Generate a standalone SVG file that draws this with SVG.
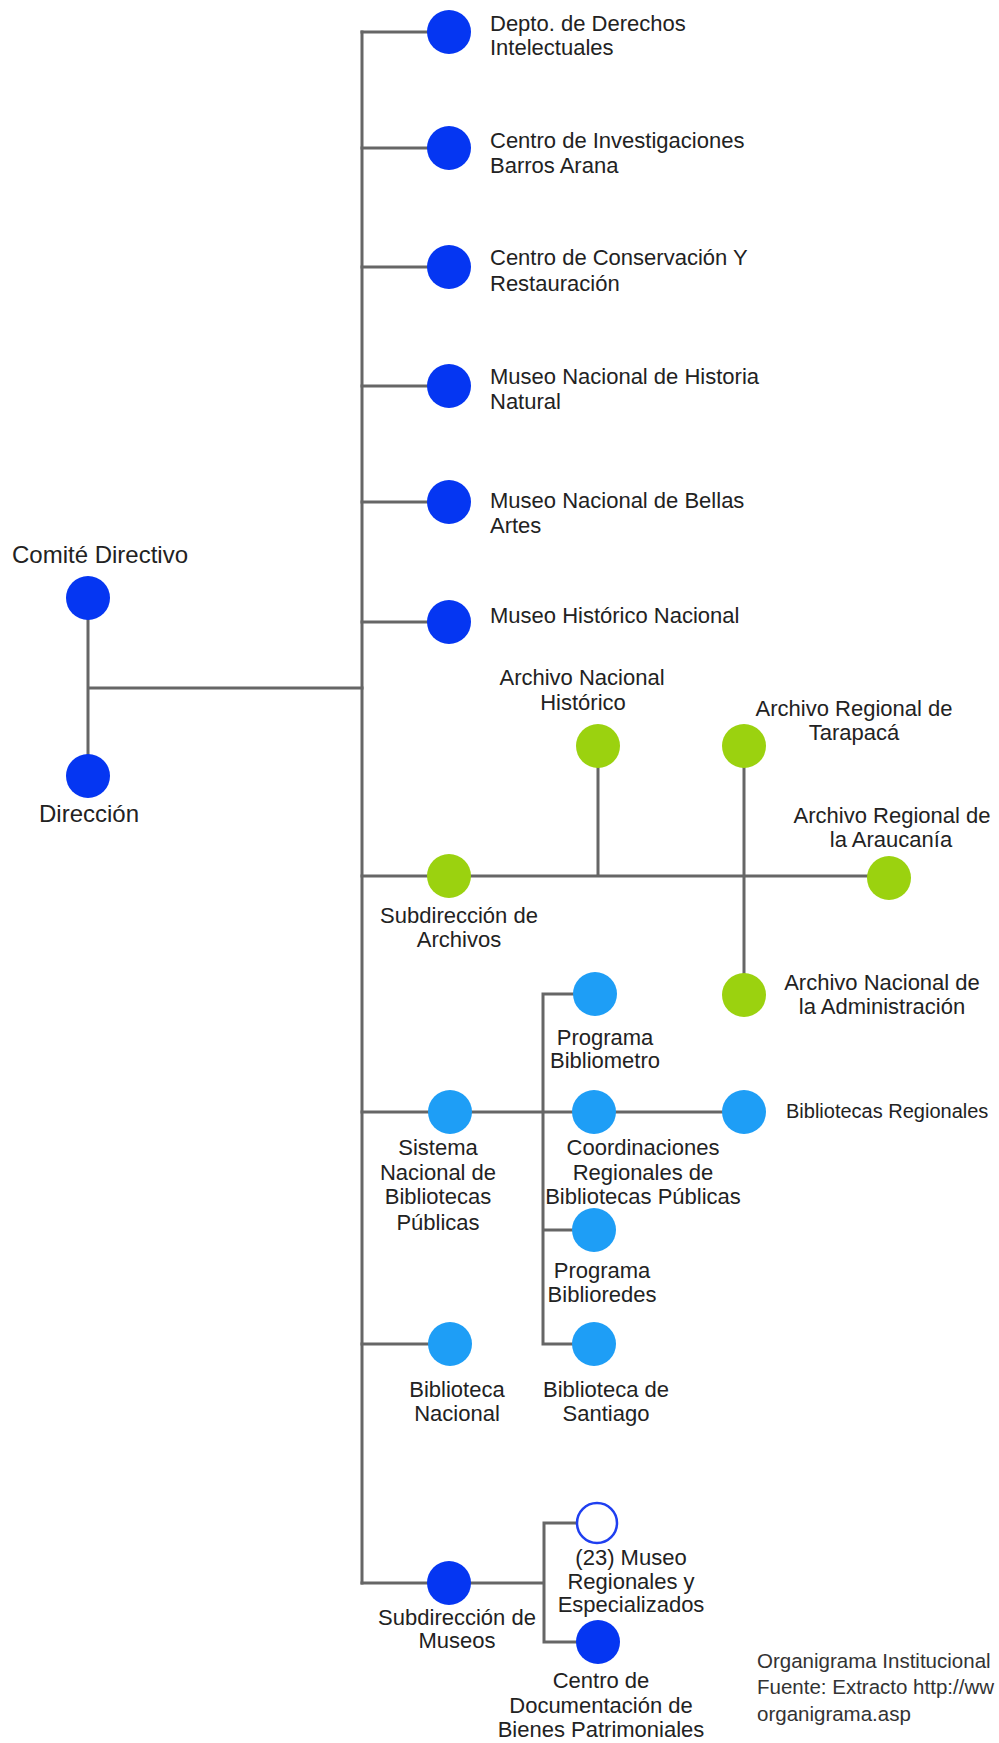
<svg xmlns="http://www.w3.org/2000/svg" width="999" height="1743" viewBox="0 0 999 1743">
<style>
.ln{stroke:#666;stroke-width:3;fill:none;stroke-linecap:square}
.db{fill:#0536f2}
.lb{fill:#1e9ef6}
.gr{fill:#9bd20f}
.open{fill:#fff;stroke:#1f3ff0;stroke-width:2.5}
text{font-family:"Liberation Sans",Arial,sans-serif;font-size:22px;fill:#222}
.c{text-anchor:middle}
.big{font-size:24px}
.sm{font-size:20px}
.foot{font-size:20.5px;fill:#333}
</style>
<rect width="999" height="1743" fill="#fff"/>
<g id="connectors">
<path class="ln" d="M362 32V1583"/>
<path class="ln" d="M362 32H449M362 148H449M362 267H449M362 386H449M362 502H449M362 622H449"/>
<path class="ln" d="M88 598V776M88 688H362"/>
<path class="ln" d="M362 876H889M598 746V876M744 746V995"/>
<path class="ln" d="M362 1112H744M543 994V1344M543 994H594M543 1230H594M543 1344H594M362 1344H450"/>
<path class="ln" d="M362 1583H544M544 1523V1642M544 1523H577M544 1642H598"/>
</g>
<g id="comite"><circle class="db" cx="88" cy="598" r="22"/><text class="big c" x="100" y="563">Comité Directivo</text></g>
<g id="direccion"><circle class="db" cx="88" cy="776" r="22"/><text class="big c" x="89" y="822">Dirección</text></g>
<g id="derechos"><circle class="db" cx="449" cy="32" r="22"/><text x="490" y="31">Depto. de Derechos</text><text x="490" y="55">Intelectuales</text></g>
<g id="barros"><circle class="db" cx="449" cy="148" r="22"/><text x="490" y="148">Centro de Investigaciones</text><text x="490" y="173">Barros Arana</text></g>
<g id="conservacion"><circle class="db" cx="449" cy="267" r="22"/><text x="490" y="265">Centro de Conservación Y</text><text x="490" y="291">Restauración</text></g>
<g id="historia-natural"><circle class="db" cx="449" cy="386" r="22"/><text x="490" y="384">Museo Nacional de Historia</text><text x="490" y="409">Natural</text></g>
<g id="bellas-artes"><circle class="db" cx="449" cy="502" r="22"/><text x="490" y="508">Museo Nacional de Bellas</text><text x="490" y="533">Artes</text></g>
<g id="historico"><circle class="db" cx="449" cy="622" r="22"/><text x="490" y="623">Museo Histórico Nacional</text></g>
<g id="sub-archivos"><circle class="gr" cx="449" cy="876" r="22"/><text class="c" x="459" y="923">Subdirección de</text><text class="c" x="459" y="947">Archivos</text></g>
<g id="archivo-historico"><circle class="gr" cx="598" cy="746" r="22"/><text class="c" x="582" y="685">Archivo Nacional</text><text class="c" x="583" y="710">Histórico</text></g>
<g id="tarapaca"><circle class="gr" cx="744" cy="746" r="22"/><text class="c" x="854" y="716">Archivo Regional de</text><text class="c" x="854" y="740">Tarapacá</text></g>
<g id="araucania"><circle class="gr" cx="889" cy="878" r="22"/><text class="c" x="892" y="823">Archivo Regional de</text><text class="c" x="891" y="847">la Araucanía</text></g>
<g id="administracion"><circle class="gr" cx="744" cy="995" r="22"/><text class="c" x="882" y="990">Archivo Nacional de</text><text class="c" x="882" y="1014">la Administración</text></g>
<g id="snbp"><circle class="lb" cx="450" cy="1112" r="22"/><text class="c" x="438" y="1155">Sistema</text><text class="c" x="438" y="1180">Nacional de</text><text class="c" x="438" y="1204">Bibliotecas</text><text class="c" x="438" y="1230">Públicas</text></g>
<g id="bibliometro"><circle class="lb" cx="595" cy="994" r="22"/><text class="c" x="605" y="1045">Programa</text><text class="c" x="605" y="1068">Bibliometro</text></g>
<g id="coordinaciones"><circle class="lb" cx="594" cy="1112" r="22"/><text class="c" x="643" y="1155">Coordinaciones</text><text class="c" x="643" y="1180">Regionales de</text><text class="c" x="643" y="1204">Bibliotecas Públicas</text></g>
<g id="regionales"><circle class="lb" cx="744" cy="1112" r="22"/><text class="sm" x="786" y="1118">Bibliotecas Regionales</text></g>
<g id="biblioredes"><circle class="lb" cx="594" cy="1230" r="22"/><text class="c" x="602" y="1278">Programa</text><text class="c" x="602" y="1302">Biblioredes</text></g>
<g id="santiago"><circle class="lb" cx="594" cy="1344" r="22"/><text class="c" x="606" y="1397">Biblioteca de</text><text class="c" x="606" y="1421">Santiago</text></g>
<g id="nacional"><circle class="lb" cx="450" cy="1344" r="22"/><text class="c" x="457" y="1397">Biblioteca</text><text class="c" x="457" y="1421">Nacional</text></g>
<g id="sub-museos"><circle class="db" cx="449" cy="1583" r="22"/><text class="c" x="457" y="1625">Subdirección de</text><text class="c" x="457" y="1648">Museos</text></g>
<g id="museos-regionales"><circle class="open" cx="597" cy="1523" r="20"/><text class="c" x="631" y="1565">(23) Museo</text><text class="c" x="631" y="1589">Regionales y</text><text class="c" x="631" y="1612">Especializados</text></g>
<g id="documentacion"><circle class="db" cx="598" cy="1642" r="22"/><text class="c" x="601" y="1688">Centro de</text><text class="c" x="601" y="1713">Documentación de</text><text class="c" x="601" y="1737">Bienes Patrimoniales</text></g>
<g id="footer"><text class="foot" x="757" y="1668">Organigrama Institucional</text><text class="foot" x="757" y="1694">Fuente: Extracto http://ww</text><text class="foot" x="757" y="1721">organigrama.asp</text></g>
</svg>
